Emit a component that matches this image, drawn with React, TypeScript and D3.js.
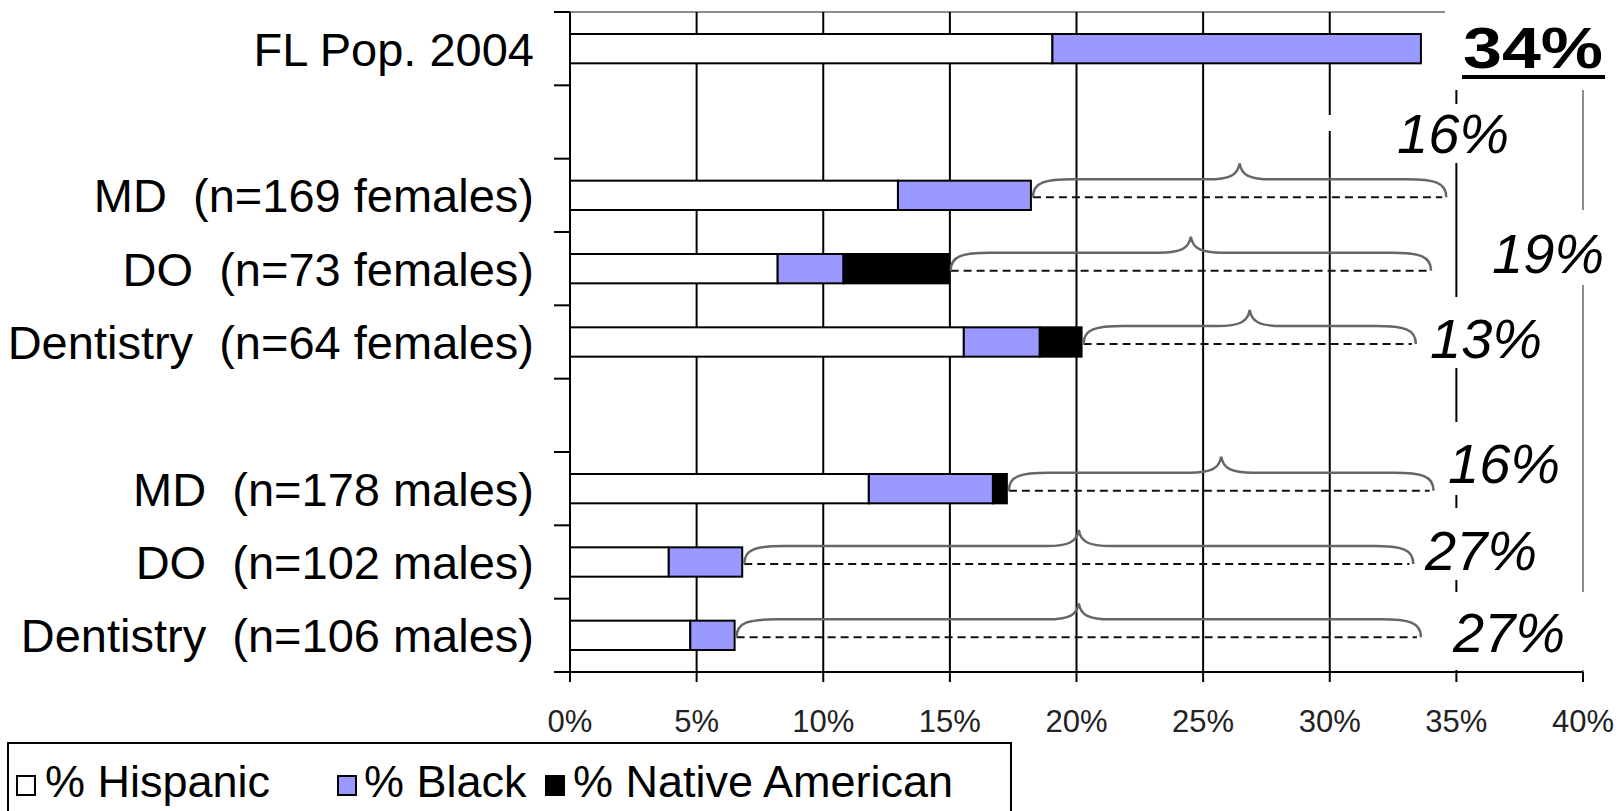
import { useEffect, useRef } from "react";
import * as d3 from "d3";

// rows of the chart, blank strings are the empty spacer rows
const categories = [
  "FL Pop. 2004",
  "",
  "MD  (n=169 females)",
  "DO  (n=73 females)",
  "Dentistry  (n=64 females)",
  "",
  "MD  (n=178 males)",
  "DO  (n=102 males)",
  "Dentistry  (n=106 males)",
];
const hispanic = [19.05, 0, 12.95, 8.2, 15.55, 0, 11.8, 3.9, 4.75];
const black = [14.55, 0, 5.25, 2.6, 3.0, 0, 4.9, 2.9, 1.75];
const nativeAmerican = [0, 0, 0, 4.15, 1.65, 0, 0.55, 0, 0];

// gap annotations (difference to the FL population), per row
const gapLabels = ["", "", "16%", "19%", "13%", "", "16%", "27%", "27%"];
const braceEnd = [0, 0, 34.6, 34.0, 33.4, 0, 34.1, 33.3, 33.6];

const xTicks = [0, 5, 10, 15, 20, 25, 30, 35, 40];
const seriesNames = ["% Hispanic", "% Black", "% Native American"];
const seriesColors = ["#ffffff", "#9999ff", "#000000"];

const FONT = "'Liberation Sans', Arial, sans-serif";

export default function App() {
  const ref = useRef<SVGSVGElement>(null);

  useEffect(() => {
    if (!ref.current) return;
    const svg = d3.select(ref.current);
    svg.selectAll("*").remove();

    const left = 570;
    const right = 1583;
    const top = 12;
    const bottom = 672;

    const x = d3.scaleLinear().domain([0, 40]).range([left, right]);
    const y = d3
      .scaleBand<number>()
      .domain(d3.range(categories.length))
      .range([top, bottom])
      .paddingInner(0.6)
      .paddingOuter(0.3);
    const step = y.step();
    const bw = y.bandwidth();

    svg.append("rect").attr("width", 1621).attr("height", 811).attr("fill", "#fff");

    // plot area border (grey, top and right)
    svg
      .append("line")
      .attr("x1", left)
      .attr("x2", right)
      .attr("y1", top)
      .attr("y2", top)
      .attr("stroke", "#8c8c8c")
      .attr("stroke-width", 2);
    svg
      .append("line")
      .attr("x1", right)
      .attr("x2", right)
      .attr("y1", top)
      .attr("y2", bottom)
      .attr("stroke", "#8c8c8c")
      .attr("stroke-width", 2);

    // gridlines
    svg
      .selectAll(".grid")
      .data(xTicks.filter((t) => t > 0 && t < 40))
      .enter()
      .append("line")
      .attr("x1", (d) => x(d))
      .attr("x2", (d) => x(d))
      .attr("y1", top)
      .attr("y2", bottom)
      .attr("stroke", "#000")
      .attr("stroke-width", 2);

    // stacked bars
    const table = categories.map((c, i) => ({
      i,
      h: hispanic[i],
      b: black[i],
      n: nativeAmerican[i],
    }));
    const stack = d3.stack<any>().keys(["h", "b", "n"]);
    const layers = stack(table);

    layers.forEach((layer, k) => {
      svg
        .append("g")
        .selectAll("rect")
        .data(layer.filter((d) => d[1] - d[0] > 0))
        .enter()
        .append("rect")
        .attr("x", (d) => x(d[0]))
        .attr("y", (d) => y(d.data.i) as number)
        .attr("width", (d) => x(d[1]) - x(d[0]))
        .attr("height", bw)
        .attr("fill", seriesColors[k])
        .attr("stroke", "#000")
        .attr("stroke-width", 2);
    });

    // braces + dashed lines
    const braceG = svg.append("g");
    categories.forEach((_, i) => {
      if (!gapLabels[i]) return;
      const total = hispanic[i] + black[i] + nativeAmerican[i];
      const x0 = x(total) + 2;
      const x1 = x(braceEnd[i]);
      const yd = (y(i) as number) + bw / 2 + 2;
      const h = 18;
      const hp = 16;
      const yt = yd - h;
      const r = 40;
      const xc = (x0 + x1) / 2;

      braceG
        .append("line")
        .attr("x1", x0)
        .attr("x2", x1 - 4)
        .attr("y1", yd)
        .attr("y2", yd)
        .attr("stroke", "#111")
        .attr("stroke-width", 2)
        .attr("stroke-dasharray", "8 5");

      const p = d3.path();
      p.moveTo(x0, yd);
      p.bezierCurveTo(x0, yt + 3, x0 + r * 0.3, yt, x0 + r, yt);
      p.lineTo(xc - 32, yt);
      p.bezierCurveTo(xc - 10, yt, xc - 2, yt - 4, xc, yt - hp);
      p.bezierCurveTo(xc + 2, yt - 4, xc + 10, yt, xc + 32, yt);
      p.lineTo(x1 - r, yt);
      p.bezierCurveTo(x1 - r * 0.3, yt, x1, yt + 3, x1, yd);

      braceG
        .append("path")
        .attr("d", p.toString())
        .attr("fill", "none")
        .attr("stroke", "#666")
        .attr("stroke-width", 2.5);
    });

    // axes
    svg
      .append("line")
      .attr("x1", left - 16)
      .attr("x2", right)
      .attr("y1", bottom)
      .attr("y2", bottom)
      .attr("stroke", "#000")
      .attr("stroke-width", 2);
    svg
      .append("line")
      .attr("x1", left)
      .attr("x2", left)
      .attr("y1", top)
      .attr("y2", bottom + 10)
      .attr("stroke", "#000")
      .attr("stroke-width", 2);

    svg
      .selectAll(".xtick")
      .data(xTicks)
      .enter()
      .append("line")
      .attr("x1", (d) => x(d))
      .attr("x2", (d) => x(d))
      .attr("y1", bottom)
      .attr("y2", bottom + 10)
      .attr("stroke", "#000")
      .attr("stroke-width", 2);

    svg
      .selectAll(".ytick")
      .data(d3.range(categories.length + 1))
      .enter()
      .append("line")
      .attr("x1", left - 16)
      .attr("x2", left)
      .attr("y1", (d) => top + d * step)
      .attr("y2", (d) => top + d * step)
      .attr("stroke", "#000")
      .attr("stroke-width", 2);

    svg
      .selectAll(".xlabel")
      .data(xTicks)
      .enter()
      .append("text")
      .attr("x", (d) => x(d))
      .attr("y", 732)
      .attr("text-anchor", "middle")
      .attr("font-family", FONT)
      .attr("font-size", 31)
      .attr("fill", "#222")
      .text((d) => d + "%");

    svg
      .selectAll(".ylabel")
      .data(categories.map((c, i) => ({ c, i })).filter((d) => d.c))
      .enter()
      .append("text")
      .attr("x", 534)
      .attr("y", (d) => (y(d.i) as number) + bw / 2 + 17)
      .attr("text-anchor", "end")
      .attr("font-family", FONT)
      .attr("font-size", 47)
      .attr("fill", "#000")
      .style("white-space", "pre")
      .text((d) => d.c);

    // white text boxes of the annotations (they hide the lines behind)
    const boxes = [
      [1445, 0, 170, 90],
      [1385, 104, 135, 59],
      [1325, 115, 10, 16],
      [1485, 210, 120, 75],
      [1425, 297, 125, 71],
      [1440, 422, 125, 73],
      [1418, 508, 125, 72],
      [1445, 592, 145, 78],
    ];
    svg
      .selectAll(".box")
      .data(boxes)
      .enter()
      .append("rect")
      .attr("x", (d) => d[0])
      .attr("y", (d) => d[1])
      .attr("width", (d) => d[2])
      .attr("height", (d) => d[3])
      .attr("fill", "#fff");

    // FL total
    svg
      .append("text")
      .attr("x", 1463)
      .attr("y", 68)
      .attr("font-family", FONT)
      .attr("font-weight", "bold")
      .attr("font-size", 58)
      .attr("textLength", 140)
      .attr("lengthAdjust", "spacingAndGlyphs")
      .text("34%");
    svg
      .append("line")
      .attr("x1", 1462)
      .attr("x2", 1605)
      .attr("y1", 77)
      .attr("y2", 77)
      .attr("stroke", "#000")
      .attr("stroke-width", 4);

    const annPos: Record<number, [number, number]> = {
      2: [1397, 153],
      3: [1492, 273],
      4: [1430, 358],
      6: [1448, 483],
      7: [1425, 570],
      8: [1453, 652],
    };
    Object.entries(annPos).forEach(([k, [ax, ay]]) => {
      svg
        .append("text")
        .attr("x", ax)
        .attr("y", ay)
        .attr("font-family", FONT)
        .attr("font-style", "italic")
        .attr("font-size", 56)
        .text(gapLabels[+k]);
    });

    // legend
    svg
      .append("rect")
      .attr("x", 8)
      .attr("y", 743)
      .attr("width", 1003)
      .attr("height", 100)
      .attr("fill", "#fff")
      .attr("stroke", "#000")
      .attr("stroke-width", 2);
    const legendX = [[17, 45], [338, 364], [546, 573]];
    seriesNames.forEach((name, k) => {
      svg
        .append("rect")
        .attr("x", legendX[k][0])
        .attr("y", 776)
        .attr("width", 18)
        .attr("height", 19)
        .attr("fill", seriesColors[k])
        .attr("stroke", "#000")
        .attr("stroke-width", 2);
      svg
        .append("text")
        .attr("x", legendX[k][1])
        .attr("y", 797)
        .attr("font-family", FONT)
        .attr("font-size", 45)
        .text(name);
    });
  }, []);

  return (
    <svg
      ref={ref}
      width={1621}
      height={811}
      style={{ position: "absolute", left: 0, top: 0 }}
    />
  );
}
